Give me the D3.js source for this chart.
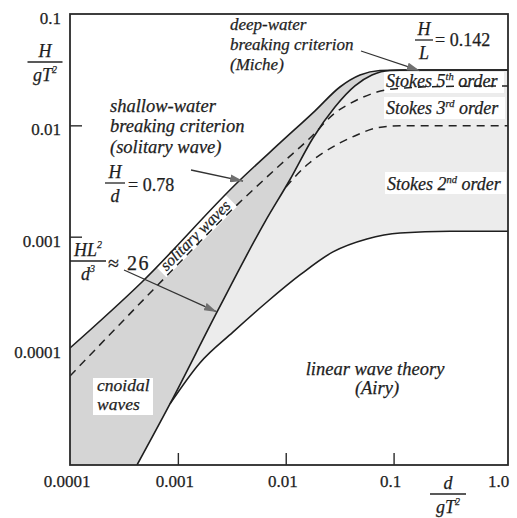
<!DOCTYPE html>
<html>
<head>
<meta charset="utf-8">
<script src="https://cdn.jsdelivr.net/npm/d3@7"></script>
<style>
  body { margin: 0; background: #fff; }
  svg { display: block; }
  text { fill: #1e1e1e; stroke: #1e1e1e; stroke-width: 0.25px; }
</style>
</head>
<body>
<svg width="517" height="518"></svg>
<script>
// x = d/gT^2, y = H/gT^2
const breakX = [0.0001, 0.000465, 0.00377, 0.00885, 0.0187, 0.0318, 0.0488, 0.0748, 0.115, 1.15];
const breakY = [0.0001, 0.000392, 0.00323, 0.00695, 0.0135, 0.0221, 0.0283, 0.0311, 0.0314, 0.0314];

const ursellX = [0.000418, 0.000845, 0.00236, 0.00642, 0.0109, 0.0179, 0.0286, 0.0438, 0.063, 0.0925, 0.142, 1.15];
const ursellY = [0.0000089, 0.0000315, 0.00022, 0.00136, 0.00323, 0.0077, 0.0146, 0.0226, 0.0283, 0.0311, 0.0314, 0.0314];

const linearX = [0.000418, 0.000845, 0.0016, 0.00324, 0.0067, 0.01355, 0.0274, 0.0566, 0.115, 0.333, 1.15];
const linearY = [0.0000089, 0.0000315, 0.0000735, 0.000139, 0.000259, 0.000453, 0.00073, 0.000954, 0.00108, 0.00112, 0.00112];

const stokes5X = [0.0001, 0.000588, 0.00338, 0.00885, 0.0168, 0.0286, 0.0438, 0.0701, 0.127, 0.269, 1.15];
const stokes5Y = [0.0000561, 0.000332, 0.00185, 0.0044, 0.0077, 0.0129, 0.01655, 0.0199, 0.0217, 0.0223, 0.0226];

const stokes3X = [0.01005, 0.0157, 0.0221, 0.0318, 0.0457, 0.0701, 0.115, 1.15];
const stokes3Y = [0.0028, 0.0044, 0.00565, 0.00695, 0.0082, 0.0095, 0.0099, 0.0099];

const xTicks = [0.0001, 0.001, 0.01, 0.1, 1];
const xTickLabels = ['0.0001', '0.001', '0.01', '0.1', '1.0'];
const yTicks = [0.1, 0.01, 0.001, 0.0001];
const yTickLabels = ['0.1', '0.01', '0.001', '0.0001'];

const FONT = "'Liberation Serif', Tinos, 'Times New Roman', Times, 'DejaVu Serif', serif";

const svg = d3.select('svg').attr('font-family', FONT);
const x = d3.scaleLog().domain([1e-4, 1.15]).range([70, 508]);
const y = d3.scaleLog().domain([8.9e-6, 0.1]).range([465, 14]);
const [x0, x1] = x.range();
const [yB, yT] = y.range();

const breaking = d3.zip(breakX, breakY);
const ursell = d3.zip(ursellX, ursellY);
const linear = d3.zip(linearX, linearY);
const stokes5 = d3.zip(stokes5X, stokes5Y);
const stokes3 = d3.zip(stokes3X, stokes3Y);

const line = d3.line().x(d => x(d[0])).y(d => y(d[1])).curve(d3.curveMonotoneX);
const below = d3.area().x(d => x(d[0])).y0(yB).y1(d => y(d[1])).curve(d3.curveMonotoneX);
const above = d3.area().x(d => x(d[0])).y0(yT).y1(d => y(d[1])).curve(d3.curveMonotoneX);

const defs = svg.append('defs');
defs.append('clipPath').attr('id', 'plot')
  .append('rect').attr('x', x0).attr('y', yT).attr('width', x1 - x0).attr('height', yB - yT);
const cp = defs.append('clipPath').attr('id', 'leftOfUrsell');
cp.append('path').attr('d', above(ursell));
cp.append('rect').attr('x', x0).attr('y', yT).attr('width', x(ursellX[0]) - x0).attr('height', yB - yT);

defs.append('marker').attr('id', 'head')
  .attr('viewBox', '0 0 13 8').attr('refX', 13).attr('refY', 4)
  .attr('markerWidth', 13).attr('markerHeight', 8)
  .attr('markerUnits', 'userSpaceOnUse').attr('orient', 'auto')
  .append('path').attr('d', 'M0,0L13,4L0,8Z').attr('fill', '#707070');

// regions
const plot = svg.append('g').attr('clip-path', 'url(#plot)');
plot.append('path').attr('d', below(breaking)).attr('fill', '#ececec');   // Stokes
plot.append('path').attr('d', below(linear)).attr('fill', '#fff');         // linear
plot.append('g').attr('clip-path', 'url(#leftOfUrsell)')
  .append('path').attr('d', below(breaking)).attr('fill', '#d5d5d5');     // cnoidal

// labels in the plot
function box(x, y, w, h) {
  plot.append('rect').attr('x', x).attr('y', y).attr('width', w).attr('height', h).attr('fill', '#fff');
}
function it(x, y, s, size) {
  return svg.append('text').attr('x', x).attr('y', y).attr('font-family', FONT).attr('font-style', 'italic')
    .attr('font-size', size || 18.5).text(s);
}
function stokes(x, y, n, sup) {
  const t = svg.append('text').attr('x', x).attr('y', y).attr('font-family', FONT)
    .attr('font-style', 'italic').attr('font-size', 18);
  t.append('tspan').text('Stokes ' + n);
  t.append('tspan').attr('font-size', 10.5).attr('dy', -7).text(sup);
  t.append('tspan').attr('dy', 7).text(' order');
}

box(93, 378, 60, 37);
box(384, 72, 120, 21);
box(384, 97, 121, 22);
box(385, 172, 121, 22);

const sol = plot.append('g').attr('transform', 'translate(199,239) rotate(-45)');
sol.append('rect').attr('x', -50).attr('y', -14).attr('width', 100).attr('height', 18).attr('fill', '#fff');

// lines
plot.append('path').attr('d', line(stokes5)).attr('fill', 'none')
  .attr('stroke', '#222').attr('stroke-width', 1.5).attr('stroke-dasharray', '8,6');
plot.append('path').attr('d', line(stokes3)).attr('fill', 'none')
  .attr('stroke', '#222').attr('stroke-width', 1.5).attr('stroke-dasharray', '8,6');
[breaking, ursell, linear.slice(1)].forEach(d => {
  plot.append('path').attr('d', line(d)).attr('fill', 'none')
    .attr('stroke', '#1e1e1e').attr('stroke-width', 1.6);
});

// frame and axes
svg.append('rect').attr('x', x0).attr('y', yT).attr('width', x1 - x0).attr('height', yB - yT)
  .attr('fill', 'none').attr('stroke', '#2a2a2a').attr('stroke-width', 1.8);

const gx = svg.append('g').attr('transform', `translate(0,${yB})`)
  .call(d3.axisBottom(x).tickValues(xTicks).tickFormat((d, i) => xTickLabels[i])
    .tickSizeInner(-12).tickSizeOuter(0).tickPadding(10));
const gy = svg.append('g').attr('transform', `translate(${x0},0)`)
  .call(d3.axisLeft(y).tickValues(yTicks).tickFormat((d, i) => yTickLabels[i])
    .tickSizeInner(-12).tickSizeOuter(0).tickPadding(9));
[gx, gy].forEach(g => {
  g.attr('font-size', 17).attr('font-family', FONT).attr('color', '#2a2a2a');
  g.select('.domain').remove();
  g.selectAll('.tick line').attr('stroke-width', 1.4);
  g.selectAll('.tick').filter((d, i, n) => i === 0 || i === n.length - 1).select('line').remove();
  g.selectAll('text').attr('fill', '#1e1e1e');
});
gx.selectAll('text').attr('dx', '-0.2em');
gy.selectAll('text').attr('dy', '0.55em');

// texts
sol.append('text').attr('x', 0).attr('y', 0).attr('text-anchor', 'middle').attr('font-family', FONT)
  .attr('font-style', 'italic').attr('font-size', 16).text('solitary waves');
it(97, 391, 'cnoidal', 17.5); it(97, 410, 'waves', 17.5);
stokes(386, 87, '5', 'th');
stokes(386, 114, '3', 'rd');
stokes(387, 190, '2', 'nd');
it(375, 375, 'linear wave theory').attr('text-anchor', 'middle');
it(377, 394, '(Airy)').attr('text-anchor', 'middle');

it(230, 30, 'deep-water', 17); it(230, 50, 'breaking criterion', 17); it(230, 70, '(Miche)', 17);
it(110, 112, 'shallow-water'); it(110, 132, 'breaking criterion'); it(110, 153, '(solitary wave)');

function frac(cx, yTop, top, bot, w) {
  const a = svg.append('text').attr('x', cx).attr('y', yTop).attr('text-anchor', 'middle')
    .attr('font-family', FONT).attr('font-style', 'italic').attr('font-size', 18);
  top(a);
  svg.append('line').attr('x1', cx - w / 2).attr('x2', cx + w / 2)
    .attr('y1', yTop + 5).attr('y2', yTop + 5).attr('stroke', '#222').attr('stroke-width', 1.3);
  const b = svg.append('text').attr('x', cx).attr('y', yTop + 24).attr('text-anchor', 'middle')
    .attr('font-family', FONT).attr('font-style', 'italic').attr('font-size', 18);
  bot(b);
}
const gT2 = t => { t.append('tspan').text('gT'); t.append('tspan').attr('font-size', 10).attr('dy', -8).text('2'); };
function plain(x, y, s, size) {
  return svg.append('text').attr('x', x).attr('y', y).attr('font-family', FONT).attr('font-size', size || 18).text(s);
}

frac(45, 57, t => t.text('H'), gT2, 35);
frac(448, 489, t => t.text('d'), gT2, 36);
frac(115, 178, t => t.text('H'), t => t.text('d'), 20);
plain(128, 191, '= 0.78');
frac(424, 35, t => t.text('H'), t => t.text('L'), 18);
plain(435, 46, '= 0.142');
frac(88, 256, t => {
  t.append('tspan').text('HL');
  t.append('tspan').attr('font-size', 10).attr('dy', -8).text('2');
}, t => {
  t.append('tspan').text('d');
  t.append('tspan').attr('font-size', 10).attr('dy', -8).text('3');
}, 36);
plain(108, 270, '\u2248 26', 20).attr('letter-spacing', 1.5);

// arrows, tips on the curves
function arrow(xa, ya, tip) {
  svg.append('line').attr('x1', xa).attr('y1', ya).attr('x2', x(tip[0])).attr('y2', y(tip[1]))
    .attr('stroke', '#333').attr('stroke-width', 1.3).attr('marker-end', 'url(#head)');
}
arrow(361, 51, [0.175, 0.031]);
arrow(191, 170, [0.00402, 0.00316]);
arrow(124, 270, [0.0023, 0.000211]);
</script>
</body>
</html>
